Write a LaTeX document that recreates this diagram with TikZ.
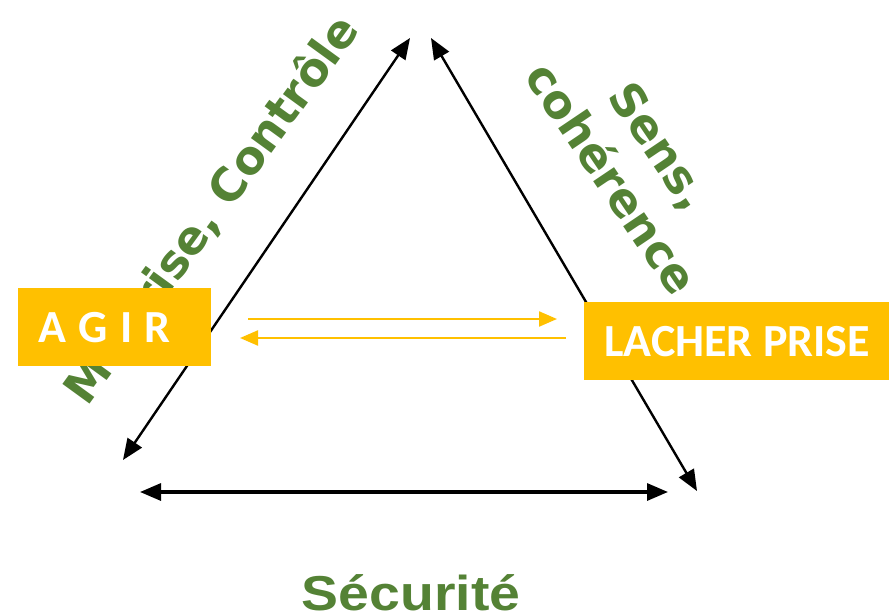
\documentclass[tikz,border=0pt]{standalone}
\usepackage{fontspec}
\usetikzlibrary{arrows.meta}
\newfontfamily\dejabold{DejaVu Sans Bold}
\newfontfamily\carlito{Carlito}[BoldFont={Carlito Bold}]
\newfontfamily\libsans{Liberation Sans}
\definecolor{gold}{HTML}{FFC000}
\definecolor{leaf}{HTML}{548235}
\begin{document}
\begin{tikzpicture}[x=1pt,y=-1pt,
  blk/.style={line width=2.4pt,{Triangle[length=21pt,width=17pt]}-{Triangle[length=21pt,width=17pt]}},
  org/.style={draw=gold,line width=2.2pt,-{Triangle[length=18pt,width=15pt]}},
  lab/.style={text=leaf,inner sep=0pt,font=\dejabold\fontsize{46}{54}\selectfont},
  box/.style={fill=gold,text=white,inner sep=0pt,font=\carlito\bfseries\fontsize{46}{50}\selectfont}]
\useasboundingbox (0,0) rectangle (889,615);
% corners
\coordinate (L1) at (123,460);
\coordinate (T1) at (410,38);
\coordinate (T2) at (431,38);
\coordinate (R2) at (697,491);
\coordinate (B1) at (140,492);
\coordinate (B2) at (668,492);
\draw[blk] (L1) -- (T1);
\draw[blk] (T2) -- (R2);
\draw[blk,line width=3.2pt] (B1) -- (B2);
% green labels
\node[lab,rotate=54] (maitrise) at (212,210) {Maîtrise, Contrôle};
\node[lab,rotate=-56,align=center] (sens) at (636,162) {Sens,\\[4pt]cohérence};
\node[text=leaf,inner sep=0pt,anchor=base,xscale=1.13,font=\libsans\bfseries\fontsize{49}{55}\selectfont] (secu) at (411,610) {Sécurité};
% boxes
\node[box,minimum width=193pt,minimum height=78pt] (agir) at (114.5,327) {};
\node[box,anchor=base west] (agirt) at (38,342) {A\kern2pt{} G\kern2pt{} I\kern2pt{} R};
\node[box,minimum width=305pt,minimum height=78pt] (lacher) at (736.5,341) {};
\node[box,anchor=base west] (lachert) at (604,356) {LACHER PRISE};
% orange arrows
\coordinate (o1s) at (248,319);
\coordinate (o1e) at (557,319);
\coordinate (o2s) at (566,338);
\coordinate (o2e) at (240,338);
\draw[org] (o1s) -- (o1e);
\draw[org] (o2s) -- (o2e);
\end{tikzpicture}
\end{document}
